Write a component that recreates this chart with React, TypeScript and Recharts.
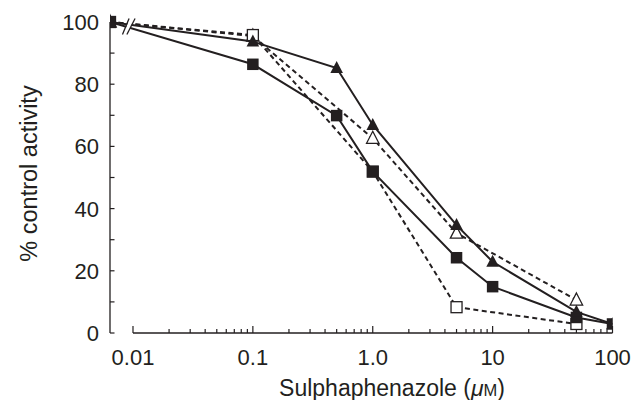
import React from 'react';
import { LineChart, Line, XAxis, YAxis, ReferenceLine, ReferenceDot, Label } from 'recharts';

// "Control" (no inhibitor) is drawn left of the axis break
const CONTROL_X = 0.00643;
const concentrations = [CONTROL_X, 0.1, 0.5, 1, 5, 10, 50, 100];

const filledSquareValues = [100, 86.4, 69.9, 51.9, 24.2, 14.9, 5, 2.9];
const filledTriangleValues = [100, 93.7, 85.2, 66.9, 34.7, 22.9, 6.8, 2.9];
const openTriangleValues = [100, 95.5, null, 62.6, 32.1, null, 10.6, null];
const openSquareValues = [100, 95.8, null, 51.9, 8.3, null, 2.9, null];

const majorXTicks = [0.01, 0.1, 1, 10, 100];
const xTickLabels = ['0.01', '0.1', '1.0', '10', '100'];
const minorXTicks = [
  0.02, 0.03, 0.04, 0.05, 0.06, 0.07, 0.08, 0.09,
  0.2, 0.3, 0.4, 0.5, 0.6, 0.7, 0.8, 0.9,
  2, 3, 4, 5, 6, 7, 8, 9,
  20, 30, 40, 50, 60, 70, 80, 90,
];
const yTicks = [0, 10, 20, 30, 40, 50, 60, 70, 80, 90, 100];
const yLabelledTicks = [0, 20, 40, 60, 80, 100];

const BREAK_X = 0.00917;
const BREAK_Y = 98.7;

const INK = '#231f20';
const FONT = '"Liberation Sans", Arial, Helvetica, sans-serif';

type Pt = { x: number; y: number };
const toSeries = (vals: (number | null)[]): Pt[] =>
  concentrations
    .map((x, i) => ({ x, y: vals[i] as number }))
    .filter((d) => d.y !== null && d.y !== undefined);

const filledSquareData = toSeries(filledSquareValues);
const filledTriangleData = toSeries(filledTriangleValues);
const openTriangleData = toSeries(openTriangleValues);
const openSquareData = toSeries(openSquareValues);

const allXTicks = [...majorXTicks, ...minorXTicks].sort((a, b) => a - b);

const XTick = (props: any) => {
  const { x, y, payload } = props;
  const idx = majorXTicks.indexOf(payload.value);
  const major = idx >= 0;
  return (
    <g>
      <line x1={x} x2={x} y1={y} y2={y - (major ? 7 : 4)} stroke={INK} strokeWidth={1.2} />
      {major && (
        <text x={x} y={y + 32} textAnchor="middle" fontSize={22} fill={INK} fontFamily={FONT}>
          {xTickLabels[idx]}
        </text>
      )}
    </g>
  );
};

const YTick = (props: any) => {
  const { x, y, payload } = props;
  const labelled = yLabelledTicks.indexOf(payload.value) >= 0;
  return (
    <g>
      <line x1={x} x2={x + 4.5} y1={y} y2={y} stroke={INK} strokeWidth={1.2} />
      {labelled && (
        <text x={x - 11} y={y + 8} textAnchor="end" fontSize={22} fill={INK} fontFamily={FONT}>
          {payload.value}
        </text>
      )}
    </g>
  );
};

const filledSquareDot = (p: any) => (
  <rect key={`fs-${p.index}`} x={p.cx - 5.75} y={p.cy - 5.75} width={11.5} height={11.5} fill={INK} />
);
const openSquareDot = (p: any) => (
  <rect key={`os-${p.index}`} x={p.cx - 5.5} y={p.cy - 5.5} width={11} height={11} fill="#fff" stroke={INK} strokeWidth={1.3} />
);
const filledTriangleDot = (p: any) => (
  <polygon
    key={`ft-${p.index}`}
    points={`${p.cx},${p.cy - 7} ${p.cx + 6.3},${p.cy + 5} ${p.cx - 6.3},${p.cy + 5}`}
    fill={INK}
  />
);
const openTriangleDot = (p: any) => (
  <polygon
    key={`ot-${p.index}`}
    points={`${p.cx},${p.cy - 7} ${p.cx + 6.2},${p.cy + 5} ${p.cx - 6.2},${p.cy + 5}`}
    fill="#fff"
    stroke={INK}
    strokeWidth={1.3}
  />
);

const BreakMark = (p: any) => {
  const { cx, cy } = p;
  return (
    <g>
      <polygon
        points={`${cx - 5.2},${cy + 9} ${cx + 1.2},${cy - 8} ${cx + 5.8},${cy - 8} ${cx - 1.2},${cy + 9}`}
        fill="#fff"
      />
      <line x1={cx - 6} y1={cy + 8.5} x2={cx + 0.6} y2={cy - 7.5} stroke={INK} strokeWidth={1.3} />
      <line x1={cx - 1.6} y1={cy + 8.5} x2={cx + 6.6} y2={cy - 7.5} stroke={INK} strokeWidth={1.3} />
    </g>
  );
};

const XTitle = (props: any) => {
  const vb = props.viewBox;
  return (
    <text x={vb.x + 282} y={396} textAnchor="middle" fontSize={23} fill={INK} fontFamily={FONT}>
      Sulphaphenazole (<tspan fontStyle="italic">μ</tspan>
      <tspan fontSize={16.5}>M</tspan>)
    </text>
  );
};

const YTitle = (props: any) => {
  const vb = props.viewBox;
  const cx = 36.5;
  const cy = vb.y + vb.height / 2 - 4;
  return (
    <text
      x={cx}
      y={cy}
      textAnchor="middle"
      fontSize={23.5}
      fill={INK}
      fontFamily={FONT}
      transform={`rotate(-90, ${cx}, ${cy})`}
    >
      % control activity
    </text>
  );
};

export default function App() {
  return (
    <div style={{ position: 'absolute', left: 0, top: 0, background: '#fff' }}>
      <LineChart
        width={634}
        height={400}
        margin={{ top: 22, right: 21.5, bottom: 0, left: 0 }}
        style={{ fontFamily: FONT }}
      >
        <XAxis
          dataKey="x"
          type="number"
          scale="log"
          domain={[CONTROL_X, 100]}
          allowDataOverflow
          ticks={allXTicks}
          interval={0}
          tickSize={0}
          tickMargin={0}
          tickLine={false}
          axisLine={false}
          tick={<XTick />}
          height={67}
        >
          <Label content={<XTitle />} />
        </XAxis>
        <YAxis
          type="number"
          domain={[0, 100]}
          ticks={yTicks}
          interval={0}
          width={110}
          tickSize={0}
          tickMargin={0}
          tickLine={false}
          axisLine={{ stroke: INK, strokeWidth: 1.3 }}
          tick={<YTick />}
        >
          <Label content={<YTitle />} />
        </YAxis>
        <ReferenceLine
          segment={[
            { x: 0.01, y: 0 },
            { x: 100, y: 0 },
          ]}
          stroke={INK}
          strokeWidth={1.4}
          ifOverflow="visible"
        />
        <Line
          data={openTriangleData}
          dataKey="y"
          stroke={INK}
          strokeWidth={2}
          strokeDasharray="5 3.5"
          dot={openTriangleDot}
          isAnimationActive={false}
          type="linear"
        />
        <Line
          data={openSquareData}
          dataKey="y"
          stroke={INK}
          strokeWidth={2}
          strokeDasharray="5 3.5"
          dot={openSquareDot}
          isAnimationActive={false}
          type="linear"
        />
        <Line
          data={filledSquareData}
          dataKey="y"
          stroke={INK}
          strokeWidth={2}
          dot={filledSquareDot}
          isAnimationActive={false}
          type="linear"
        />
        <Line
          data={filledTriangleData}
          dataKey="y"
          stroke={INK}
          strokeWidth={2}
          dot={filledTriangleDot}
          isAnimationActive={false}
          type="linear"
        />
        <ReferenceDot x={BREAK_X} y={BREAK_Y} ifOverflow="visible" shape={<BreakMark />} />
      </LineChart>
    </div>
  );
}
